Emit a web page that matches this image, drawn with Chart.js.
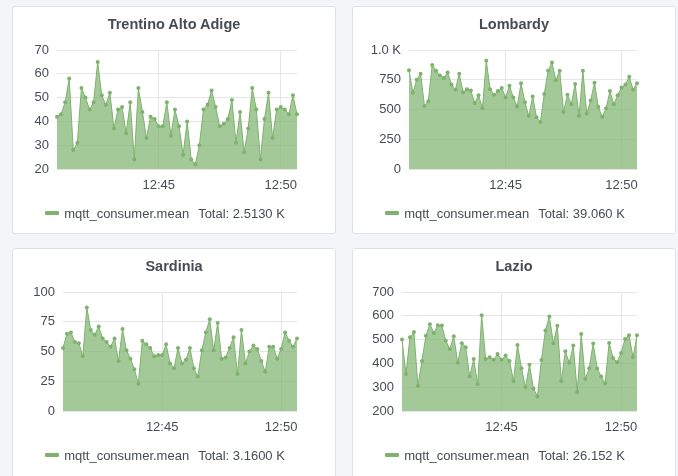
<!DOCTYPE html>
<html>
<head>
<meta charset="utf-8">
<script src="https://cdn.jsdelivr.net/npm/chart.js@4.4.1/dist/chart.umd.min.js"></script>
<style>
body{margin:0;background:#f4f5f8;width:678px;height:476px;overflow:hidden;position:relative;font-family:"Liberation Sans",Arial,sans-serif;}
.panel{position:absolute;width:324px;height:228px;box-sizing:border-box;border:1px solid #dde2ea;border-radius:3px;background:#fff;}
.panel canvas{position:absolute;left:0;top:0;}
.title{position:absolute;left:0;right:0;top:8px;text-align:center;font-weight:bold;font-size:14.5px;line-height:18px;color:#464c54;}
.legend{position:absolute;left:0;right:18px;top:198px;height:16px;display:flex;justify-content:center;align-items:center;font-size:13px;color:#464c54;}
.legend .mark{width:14px;height:4px;background:#7eb26d;border-radius:1px;margin-right:5px;}
.legend .total{margin-left:9px;}
</style>
</head>
<body>
<div class="panel" style="left:12px;top:6px"><canvas id="c1" width="322" height="226"></canvas><div class="title">Trentino Alto Adige</div><div class="legend"><span class="mark"></span><span>mqtt_consumer.mean</span><span class="total">Total: 2.5130 K</span></div></div>
<div class="panel" style="left:352px;top:6px"><canvas id="c2" width="322" height="226"></canvas><div class="title">Lombardy</div><div class="legend"><span class="mark"></span><span>mqtt_consumer.mean</span><span class="total">Total: 39.060 K</span></div></div>
<div class="panel" style="left:12px;top:248px;height:240px"><canvas id="c3" width="322" height="226"></canvas><div class="title">Sardinia</div><div class="legend"><span class="mark"></span><span>mqtt_consumer.mean</span><span class="total">Total: 3.1600 K</span></div></div>
<div class="panel" style="left:352px;top:248px;height:240px"><canvas id="c4" width="322" height="226"></canvas><div class="title">Lazio</div><div class="legend"><span class="mark"></span><span>mqtt_consumer.mean</span><span class="total">Total: 26.152 K</span></div></div>
<script>
// mqtt_consumer.mean, one point every 10 s from 12:40:50 to 12:50:40
var trentino = [42,43,48,58,28,31,54,50,45,48, 65,51,47,52,37,45,46,35,48,24,
  54,44,33,42,41,38,38,48,34,45, 38,26,40,24,22,30,45,47,53,46,
  38,39,41,49,31,44,27,37,54,45, 24,41,52,33,45,46,45,43,51,43];
var lombardy = [830,640,750,800,530,570,875,825,785,765, 810,710,665,800,645,670,660,555,620,510,
  910,670,625,655,680,600,700,600,525,720, 560,445,610,435,395,630,825,895,745,825,
  480,625,545,715,445,825,465,575,725,520, 440,510,655,545,620,685,710,775,665,720];
var sardinia = [53,65,66,58,57,46,87,68,64,71, 61,58,54,61,42,69,51,44,35,23,
  59,56,53,46,47,47,56,40,36,53, 40,43,53,36,29,51,66,77,51,74,
  44,45,53,62,31,68,40,50,55,52, 42,33,54,54,44,52,66,59,54,61];
var lazio = [500,355,510,532,305,410,516,565,528,560, 559,495,460,514,403,485,468,345,418,312,
  602,418,426,415,440,415,433,410,326,477, 380,300,394,295,261,414,538,597,485,558,
  326,451,403,475,280,524,334,380,484,379, 345,316,486,423,405,444,503,518,426,518];

var startSec = 12*3600 + 40*60 + 50;
var stepSec = 10;
var times = [];
for (var i = 0; i < trentino.length; i++) {
  var s = startSec + i*stepSec;
  var hh = Math.floor(s/3600), mm = Math.floor(s/60)%60, ss = s%60;
  times.push(hh + ":" + (mm<10?"0":"") + mm + ":" + (ss<10?"0":"") + ss);
}

var lineColor = "#7eb26d";
var fillColor = "rgba(126,178,109,0.7)";
var gridColor = "#e6e6e6";
var textColor = "#464c54";
var font = {family: "'Liberation Sans', Arial, sans-serif", size: 13};

function makeChart(id, values, yMin, yMax, yStep, yWidth, fmt) {
  new Chart(id, {
    type: "line",
    data: {
      labels: times,
      datasets: [{
        data: values,
        borderColor: lineColor,
        backgroundColor: fillColor,
        borderWidth: 1,
        fill: "start",
        tension: 0,
        pointRadius: 2,
        pointBorderWidth: 0,
        pointBackgroundColor: lineColor
      }]
    },
    options: {
      responsive: false,
      animation: false,
      layout: {padding: {left: 0, right: 38, top: 43, bottom: 34}},
      plugins: {legend: {display: false}, title: {display: false}, tooltip: {enabled: false}},
      scales: {
        x: {
          type: "category",
          offset: false,
          grid: {color: gridColor, drawTicks: false},
          border: {display: false},
          afterBuildTicks: function(scale) {
            scale.ticks = scale.ticks.filter(function(t) {
              var p = times[t.value].split(":");
              return p[2] === "00" && (+p[1]) % 5 === 0;
            });
          },
          afterFit: function(scale) { scale.height = 30; },
          ticks: {
            autoSkip: false, maxRotation: 0, padding: 9, color: textColor, font: font,
            callback: function(v) { return times[v].slice(0, 5); }
          }
        },
        y: {
          min: yMin, max: yMax,
          grid: {color: gridColor, drawTicks: false},
          border: {display: false},
          afterFit: function(scale) { scale.width = yWidth; },
          ticks: {stepSize: yStep, padding: 8, color: textColor, font: font, callback: fmt}
        }
      }
    }
  });
}

function plain(v) { return v; }
function kilo(v) { return v >= 1000 ? (v/1000).toFixed(1) + " K" : v; }

makeChart("c1", trentino, 20, 70, 10, 44, plain);
makeChart("c2", lombardy, 0, 1000, 250, 56, kilo);
makeChart("c3", sardinia, 0, 100, 25, 50, plain);
makeChart("c4", lazio, 200, 700, 100, 49, plain);
</script>
</body>
</html>
